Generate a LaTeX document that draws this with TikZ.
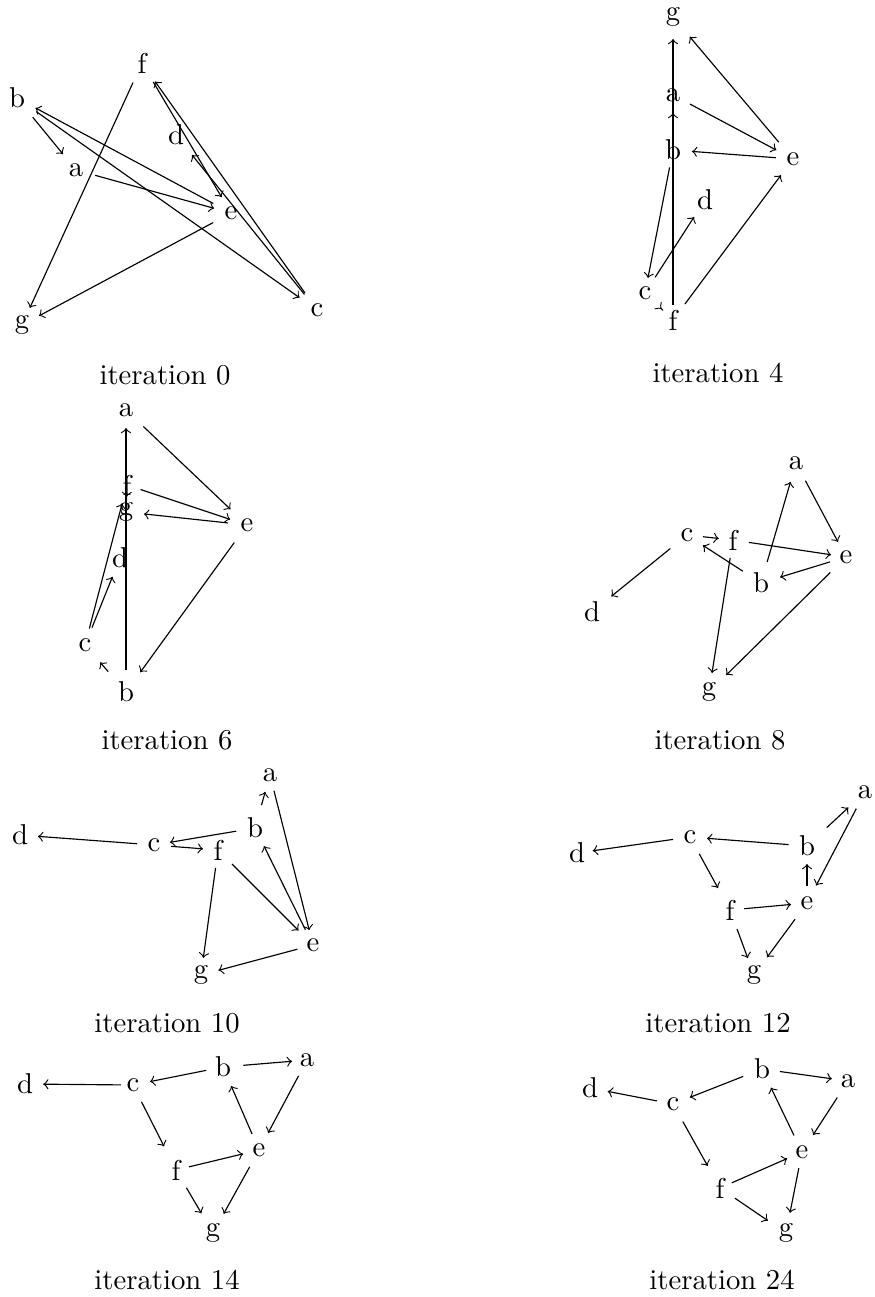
\documentclass[tikz,border=0pt]{standalone}
\begin{document}
\begin{tikzpicture}[x=0.3484pt,y=-0.3484pt,
  lk/.style 2 args={->,shorten <=#1*0.3484pt,shorten >=#2*0.3484pt},
  vtx/.style={inner sep=0pt},
  captxt/.style={inner sep=0pt}]
\useasboundingbox (0,0) rectangle (874,1297);
% ---------------- iteration 0
\node[vtx] (p0f) at (142,63) {f};
\node[vtx] (p0b) at (17,98) {b};
\node[vtx] (p0d) at (176,135) {d};
\node[vtx] (p0a) at (76,170) {a};
\node[vtx] (p0e) at (231,213) {e};
\node[vtx] (p0c) at (317,310) {c};
\node[vtx] (p0g) at (22,325) {g};
\draw[lk={24.8}{20.6}] (p0b.center) -- (p0a.center);
\draw[lk={19.9}{17.5}] (p0a.center) -- (p0e.center);
\draw[lk={20.1}{21}] (p0e.center) -- (p0b.center);
\draw[lk={23.6}{21.4}] (p0b.center) -- (p0c.center);
\draw[lk={20}{25.5}] (p0c.center) -- (p0d.center);
\draw[lk={20.8}{22.5}] (p0c.center) -- (p0f.center);
\draw[lk={22}{18.4}] (p0f.center) -- (p0e.center);
\draw[lk={21.5}{18.8}] (p0f.center) -- (p0g.center);
\draw[lk={20.2}{19.3}] (p0e.center) -- (p0g.center);
\node[captxt] (cap0) at (165,375) {iteration 0};
% ---------------- iteration 4
\node[vtx] (p4g) at (673,17) {g};
\node[vtx] (p4a) at (673,95) {a};
\node[vtx] (p4b) at (673,150) {b};
\node[vtx] (p4e) at (793,159) {e};
\node[vtx] (p4d) at (705,200) {d};
\node[vtx] (p4c) at (645,293) {c};
\node[vtx] (p4f) at (673,320) {f};
\draw[lk={15}{22}] (p4f.center) -- (p4g.center);
\draw[lk={18}{18}] (p4b.center) -- (p4a.center);
\draw[lk={19.2}{18.9}] (p4a.center) -- (p4e.center);
\draw[lk={22}{25.8}] (p4e.center) -- (p4g.center);
\draw[lk={17.1}{19}] (p4e.center) -- (p4b.center);
\draw[lk={17.7}{15.3}] (p4b.center) -- (p4c.center);
\draw[lk={18.6}{20.2}] (p4c.center) -- (p4d.center);
\draw[lk={19.8}{20.2}] (p4f.center) -- (p4e.center);
\draw[lk={25}{16}] (p4c.center) -- (p4f.center);
\node[captxt] (cap4) at (718,373) {iteration 4};
% ---------------- iteration 6
\node[vtx] (p6a) at (126,410) {a};
\node[vtx] (p6f) at (127,485) {f};
\node[vtx] (p6g) at (126,512) {g};
\node[vtx] (p6e) at (247,525) {e};
\node[vtx] (p6d) at (120,558) {d};
\node[vtx] (p6c) at (85,645) {c};
\node[vtx] (p6b) at (126,692) {b};
\draw[lk={22}{18}] (p6b.center) -- (p6a.center);
\draw[lk={24}{22.7}] (p6a.center) -- (p6e.center);
\draw[lk={14.3}{17.7}] (p6f.center) -- (p6e.center);
\draw[lk={19.1}{18}] (p6e.center) -- (p6g.center);
\draw[lk={21.6}{24.4}] (p6e.center) -- (p6b.center);
\draw[lk={17}{19}] (p6c.center) -- (p6f.center);
\draw[lk={18.8}{20.2}] (p6c.center) -- (p6d.center);
\draw[lk={27}{23}] (p6b.center) -- (p6c.center);
\draw[lk={20}{15}] (p6f.center) -- (p6g.center);
\node[captxt] (cap6) at (167,740) {iteration 6};
% ---------------- iteration 8
\node[vtx] (p8a) at (796,463) {a};
\node[vtx] (p8c) at (687,535) {c};
\node[vtx] (p8f) at (733,540) {f};
\node[vtx] (p8e) at (846,557) {e};
\node[vtx] (p8b) at (761,583) {b};
\node[vtx] (p8d) at (592,612) {d};
\node[vtx] (p8g) at (709,692) {g};
\draw[lk={16.1}{14.3}] (p8c.center) -- (p8f.center);
\draw[lk={21.4}{24.8}] (p8c.center) -- (p8d.center);
\draw[lk={21.6}{18.9}] (p8b.center) -- (p8c.center);
\draw[lk={21.8}{19.6}] (p8b.center) -- (p8a.center);
\draw[lk={20.1}{17.1}] (p8a.center) -- (p8e.center);
\draw[lk={16}{15.1}] (p8f.center) -- (p8e.center);
\draw[lk={16.8}{19.9}] (p8e.center) -- (p8b.center);
\draw[lk={18.1}{19.2}] (p8f.center) -- (p8g.center);
\draw[lk={22}{24.1}] (p8e.center) -- (p8g.center);
\node[captxt] (cap8) at (720,740) {iteration 8};
% ---------------- iteration 10
\node[vtx] (p10a) at (270,775) {a};
\node[vtx] (p10b) at (255,828) {b};
\node[vtx] (p10d) at (20,835) {d};
\node[vtx] (p10c) at (154,845) {c};
\node[vtx] (p10f) at (218,850) {f};
\node[vtx] (p10e) at (313,945) {e};
\node[vtx] (p10g) at (201,975) {g};
\draw[lk={23.8}{17.5}] (p10b.center) -- (p10a.center);
\draw[lk={16.3}{15.3}] (p10a.center) -- (p10e.center);
\draw[lk={17}{20.1}] (p10e.center) -- (p10b.center);
\draw[lk={19.8}{20.5}] (p10f.center) -- (p10e.center);
\draw[lk={19}{16.1}] (p10b.center) -- (p10c.center);
\draw[lk={17.1}{15.1}] (p10c.center) -- (p10f.center);
\draw[lk={17}{18}] (p10c.center) -- (p10d.center);
\draw[lk={18.1}{17.3}] (p10f.center) -- (p10g.center);
\draw[lk={16.2}{18}] (p10e.center) -- (p10g.center);
\node[captxt] (cap10) at (167,1023) {iteration 10};
% ---------------- iteration 12
\node[vtx] (p12a) at (865,792) {a};
\node[vtx] (p12c) at (690,837) {c};
\node[vtx] (p12b) at (807,846) {b};
\node[vtx] (p12d) at (577,853) {d};
\node[vtx] (p12e) at (807,903) {e};
\node[vtx] (p12f) at (730,910) {f};
\node[vtx] (p12g) at (754,975) {g};
\draw[lk={26.9}{22.7}] (p12b.center) -- (p12a.center);
\draw[lk={18.8}{19.7}] (p12a.center) -- (p12e.center);
\draw[lk={18.4}{17}] (p12b.center) -- (p12c.center);
\draw[lk={17.1}{15.8}] (p12c.center) -- (p12d.center);
\draw[lk={17}{18}] (p12e.center) -- (p12b.center);
\draw[lk={19.2}{25}] (p12c.center) -- (p12f.center);
\draw[lk={14.3}{16}] (p12f.center) -- (p12e.center);
\draw[lk={20.2}{18}] (p12f.center) -- (p12g.center);
\draw[lk={20.2}{22}] (p12e.center) -- (p12g.center);
\node[captxt] (cap12) at (718,1023) {iteration 12};
% ---------------- iteration 14
\node[vtx] (p14b) at (223,1067) {b};
\node[vtx] (p14a) at (307,1060) {a};
\node[vtx] (p14d) at (25,1084) {d};
\node[vtx] (p14c) at (133,1085) {c};
\node[vtx] (p14e) at (259,1150) {e};
\node[vtx] (p14f) at (176,1170) {f};
\node[vtx] (p14g) at (213,1233) {g};
\draw[lk={20.4}{15}] (p14b.center) -- (p14a.center);
\draw[lk={17}{17.3}] (p14b.center) -- (p14c.center);
\draw[lk={12}{18.2}] (p14c.center) -- (p14d.center);
\draw[lk={17.9}{19.2}] (p14a.center) -- (p14e.center);
\draw[lk={17.5}{20.6}] (p14e.center) -- (p14b.center);
\draw[lk={18.8}{26.4}] (p14c.center) -- (p14f.center);
\draw[lk={13.4}{16.3}] (p14f.center) -- (p14e.center);
\draw[lk={20.6}{22.8}] (p14f.center) -- (p14g.center);
\draw[lk={19.2}{22}] (p14e.center) -- (p14g.center);
\node[captxt] (cap14) at (167,1280) {iteration 14};
% ---------------- iteration 24
\node[vtx] (p24b) at (762,1069) {b};
\node[vtx] (p24a) at (848,1081) {a};
\node[vtx] (p24d) at (590,1088) {d};
\node[vtx] (p24c) at (673,1104) {c};
\node[vtx] (p24e) at (802,1152) {e};
\node[vtx] (p24f) at (720,1188) {f};
\node[vtx] (p24g) at (786,1233) {g};
\draw[lk={18.1}{16.3}] (p24b.center) -- (p24a.center);
\draw[lk={20.2}{18}] (p24b.center) -- (p24c.center);
\draw[lk={16.3}{18}] (p24c.center) -- (p24d.center);
\draw[lk={19.7}{20.2}] (p24a.center) -- (p24e.center);
\draw[lk={18.4}{20.6}] (p24e.center) -- (p24b.center);
\draw[lk={20.1}{25.2}] (p24c.center) -- (p24f.center);
\draw[lk={12.8}{16.2}] (p24f.center) -- (p24e.center);
\draw[lk={18}{22}] (p24f.center) -- (p24g.center);
\draw[lk={16.5}{20.6}] (p24e.center) -- (p24g.center);
\node[captxt] (cap24) at (722,1280) {iteration 24};
\end{tikzpicture}
\end{document}
